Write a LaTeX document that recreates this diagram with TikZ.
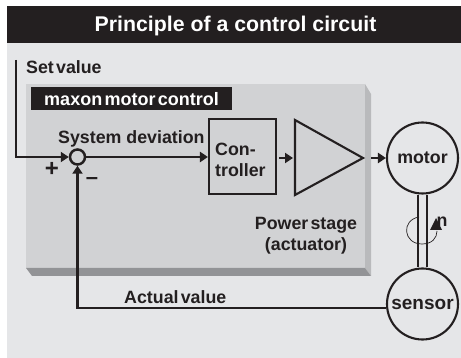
\documentclass[tikz,border=0pt]{standalone}
\usepackage{fontspec}
\setmainfont{Liberation Sans}
\newfontfamily\tightfont[WordSpace=0.45]{Liberation Sans}
\usetikzlibrary{arrows.meta}
\definecolor{panelgray}{HTML}{E5E6E8}
\definecolor{boxgray}{HTML}{D1D2D4}
\definecolor{sidegray}{HTML}{B9BABC}
\definecolor{lowgray}{HTML}{929396}
\definecolor{inkblack}{HTML}{231F20}
\tikzset{
  wire/.style = {draw = inkblack, line width = 2.1pt},
  tip/.style = {-{Triangle[length = 8pt, width = 10pt]}},
  lab/.style = {text = inkblack, font = \fontsize{17.8}{21}\selectfont\bfseries, inner sep = 0pt},
  tightlab/.style = {text = inkblack, font = \fontsize{17.8}{21}\selectfont\tightfont\bfseries, inner sep = 0pt, align = center},
  round/.style = {circle, wire, minimum size = 71pt, inner sep = 0pt, text = inkblack, font = \fontsize{17.8}{21}\selectfont\bfseries}
}
\begin{document}
\begin{tikzpicture}[x = 1pt, y = -1pt]
\useasboundingbox (0, 0) rectangle (461, 358);
\fill[panelgray] (7, 6) rectangle (461, 358);
\fill[inkblack] (7, 6) rectangle (461, 43);
\node[text = white, font = \fontsize{21.3}{24}\selectfont\bfseries, inner sep = 0pt] (title) at (235.5, 26){Principle of a control circuit};
\fill[boxgray] (26, 84) rectangle (365, 268);
\fill[sidegray] (365, 84) -- (371, 94) -- (371, 276) -- (365, 268) -- cycle;
\fill[lowgray] (26, 268) -- (365, 268) -- (371, 276) -- (32, 276) -- cycle;
\fill[inkblack] (31, 87) rectangle (232, 110);
\node[text = white, font = \fontsize{18}{21}\selectfont\tightfont\bfseries, inner sep = 0pt] (brand) at (131.5, 99){maxon motor control};
\coordinate (setstart) at (16, 60);
\coordinate (amptop) at (295, 120);
\coordinate (amptip) at (363, 158);
\coordinate (ampbottom) at (295, 195);
\coordinate (ampin) at (279, 158);
\coordinate (ampstop) at (293, 158);
\coordinate (ampout) at (371, 158);
\node[circle, wire, line width = 2.5pt, minimum size = 15pt, inner sep = 0pt] (sum) at (77.5, 157){};
\node[rectangle, wire, minimum width = 67pt, minimum height = 75pt, inner sep = 0pt] (ctrl) at (242.5, 156.5){};
\node[round] (motor) at (422.5, 158){motor};
\node[round, font = \fontsize{19}{21}\selectfont\bfseries] (sensor) at (422.5, 304){sensor};
\draw[wire, line join = miter] (amptop) -- (amptip) -- (ampbottom) -- cycle;
\draw[wire, tip] (setstart) |- (sum.west);
\draw[wire, tip] (sum) -- (sum -| ctrl.west);
\draw[wire, tip] (ampin) -- (ampstop);
\draw[wire, tip] (ampout) -- (motor.west);
\draw[wire, tip] (sensor.186) -| (sum.south);
\draw[line width = 2pt, draw = inkblack] ([xshift = -4.5pt]motor.south) -- ([xshift = -4.5pt]sensor.north);
\draw[line width = 2pt, draw = inkblack] ([xshift = 4.5pt]motor.south) -- ([xshift = 4.5pt]sensor.north);
\coordinate (spinstart) at (419, 217);
\coordinate (spinend) at (437, 231);
\draw[draw = inkblack, line width = 0.7pt] (spinstart) .. controls (401, 220) and (403, 244) .. (422, 244) .. controls (432, 244) and (437, 238) .. (spinend);
\fill[inkblack] (436, 218) -- (430, 230) -- (442, 230) -- cycle;
\node[lab] (spin) at (442, 222){n};
\node[tightlab, anchor = west] (setval) at (26, 67){Set value};
\node[lab, anchor = west] (dev) at (58, 139){System deviation};
\node[lab, align = left, anchor = west] (ctrltext) at (215, 160){Con-\\troller};
\node[tightlab] (stage) at (306, 235.5){Power stage\\(actuator)};
\node[tightlab, anchor = west] (actual) at (124, 297){Actual value};
\node[lab, font = \fontsize{24}{24}\selectfont\bfseries] (plus) at (52, 169){+};
\node[lab, font = \fontsize{22}{22}\selectfont\bfseries] (minus) at (92, 181){--};
\end{tikzpicture}
\end{document}
